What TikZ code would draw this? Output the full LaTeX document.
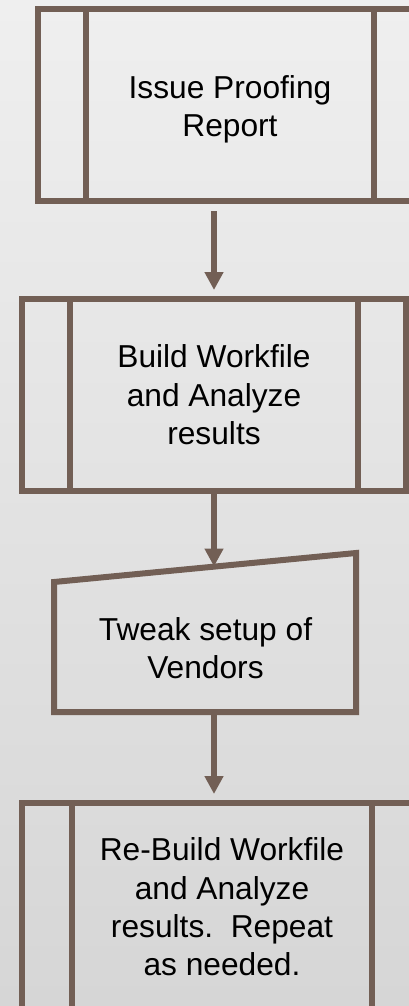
\documentclass[tikz,border=0pt]{standalone}
\usepackage{fontspec}
\setmainfont{Liberation Sans}
\usetikzlibrary{arrows.meta}
\definecolor{edge}{HTML}{725F55}
\definecolor{bgtop}{HTML}{EFEFEF}
\definecolor{bgbot}{HTML}{D6D6D6}
\tikzset{
  boxline/.style={draw=edge, line width=6pt, line join=miter},
  procarea/.style={rectangle, inner sep=0pt, outer sep=0pt, draw=none},
  txt/.style={font=\fontsize{31.7}{38.4}\selectfont, align=center, text=black, inner sep=0pt},
  arr/.style={draw=edge, line width=5.5pt, -{Triangle[length=18pt,width=18pt]}}
}
\begin{document}
\begin{tikzpicture}[x=1pt,y=-1pt]
\useasboundingbox (0,0) rectangle (409,1006);
\shade[top color=bgtop, bottom color=bgbot] (0,0) rectangle (409,1006);
\clip (0,0) rectangle (409,1006);

% Box 1 (runs past the right edge)
\node[procarea, minimum width=384pt, minimum height=192pt] (box1) at (230,105) {};
\draw[boxline] (430,9) -- (38,9) -- (38,201) -- (430,201);
\draw[boxline] (86,9) -- (86,201);
\draw[boxline] (374,9) -- (374,201);
\node[txt] (t1) at (230,109.5) {Issue Proofing\\Report};

% Box 2
\node[procarea, minimum width=384pt, minimum height=192pt] (box2) at (214,395) {};
\draw[boxline] (22,299) rectangle (406,491);
\draw[boxline] (70,299) -- (70,491);
\draw[boxline] (358,299) -- (358,491);
\node[txt] (t2) at (214,395) {Build Workfile\\and Analyze\\results};

% Box 3 (manual input)
\draw[boxline] (54,582) -- (356,553) -- (356,712) -- (54,712) -- cycle;
\coordinate (b3top) at (214,566.5);
\coordinate (b3bot) at (214,715);
\node[txt] (t3) at (205.5,648) {Tweak setup of\\Vendors};

% Box 4 (runs past the right and bottom edges)
\node[procarea, minimum width=400pt, minimum height=300pt] (box4) at (222,953) {};
\draw[boxline] (430,803) -- (22,803) -- (22,1020);
\draw[boxline] (72,803) -- (72,1020);
\draw[boxline] (372,803) -- (372,1020);
\node[txt] (t4) at (222,907) {Re-Build Workfile\\and Analyze\\results.\ \ Repeat\\as needed.};

% Connectors
\coordinate (a1s) at (214,211);
\coordinate (a1e) at (214,290);
\draw[arr] (a1s) -- (a1e);
\draw[arr] (box2.south -| b3top) -- (b3top);
\coordinate (a3e) at (214,794);
\draw[arr] (b3bot) -- (a3e);
\end{tikzpicture}
\end{document}
